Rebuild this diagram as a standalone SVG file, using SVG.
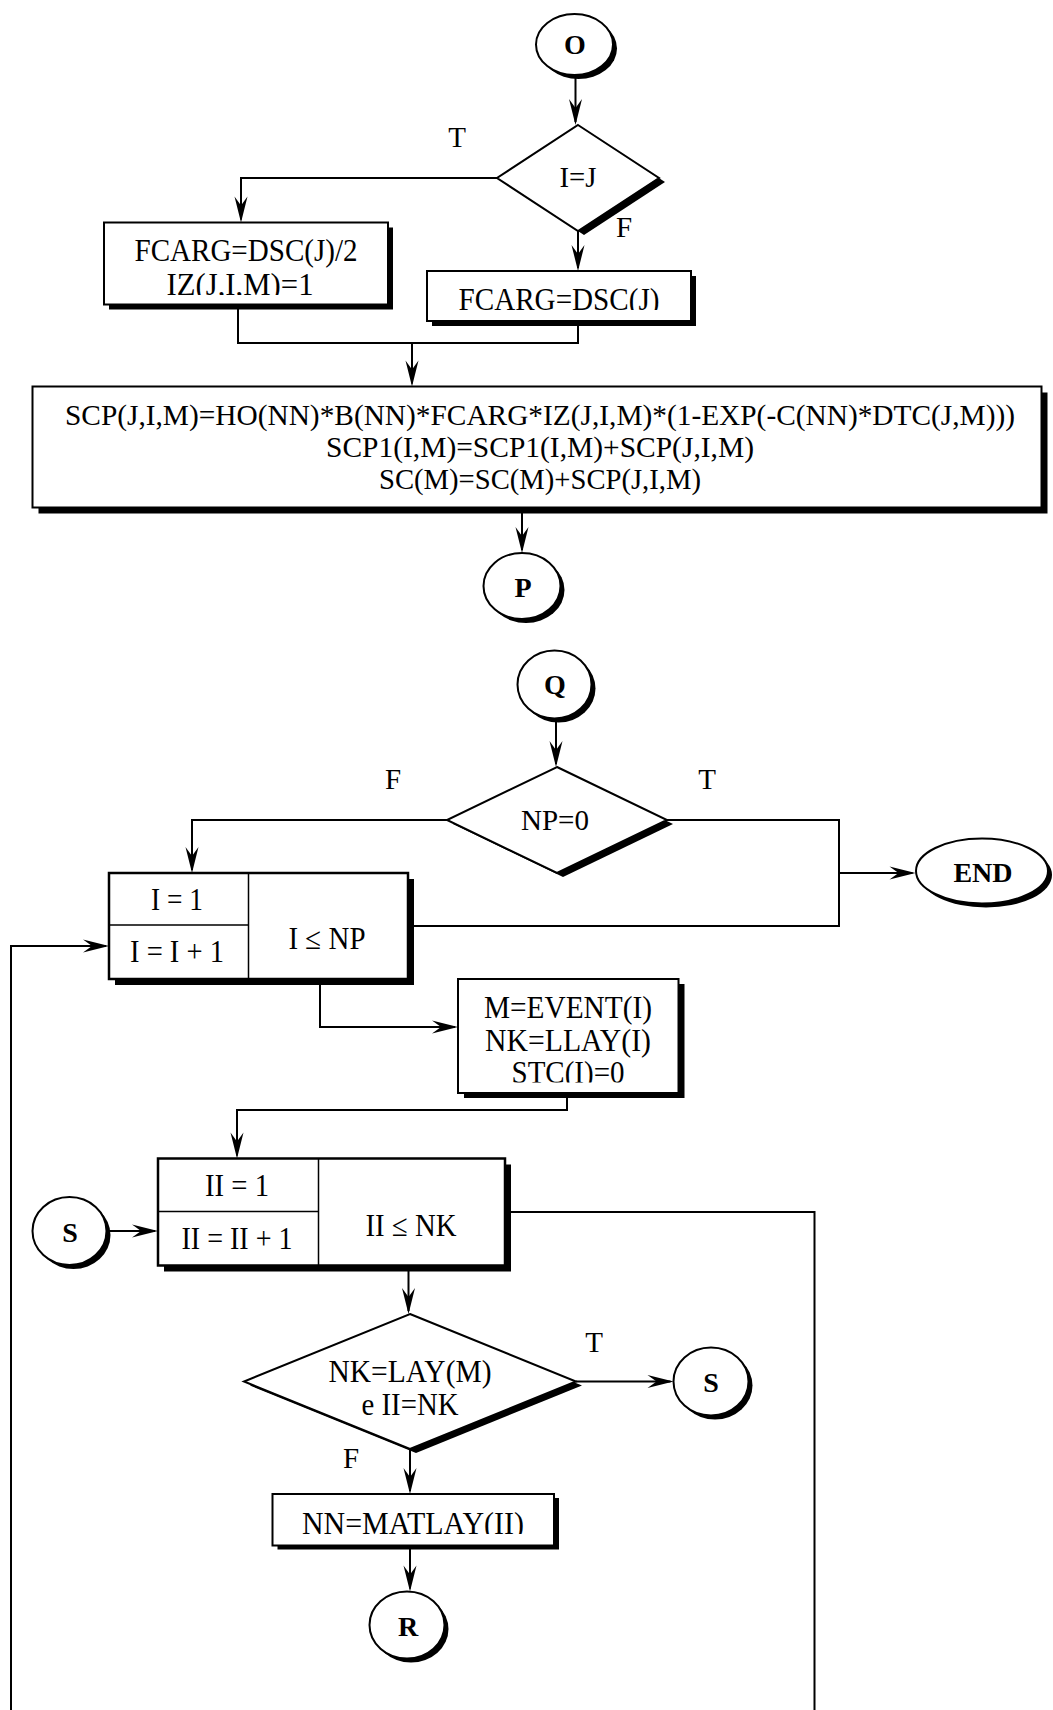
<svg xmlns="http://www.w3.org/2000/svg" width="1053" height="1710" viewBox="0 0 1053 1710">
  <style>
    .bg{fill:#fff}
    .box{fill:#fff;stroke:#000;stroke-width:2}
    .loop{fill:#fff;stroke:#000;stroke-width:2.5}
    .div{fill:none;stroke:#000;stroke-width:1.5}
    .sh{fill:#000}
    .t{font-family:"Liberation Serif","Times New Roman",serif;font-size:29px;fill:#000;text-anchor:middle}
    .p{font-size:31px}
    .w{font-size:30px}
    .b{font-weight:bold;font-size:28px}
    .ln{fill:none;stroke:#000;stroke-width:2}
    .arr{marker-end:url(#ah)}
  </style>
  <defs>
    <marker id="ah" markerUnits="userSpaceOnUse" markerWidth="28" markerHeight="14" refX="23" refY="6.5" orient="auto" overflow="visible">
      <path d="M0,0 L26,6.5 L0,13 L9,6.5 Z" fill="#000"/>
    </marker>
    <clipPath id="clipIZ"><rect x="104" y="222" width="284" height="73"/></clipPath>
    <clipPath id="clipF2"><rect x="427" y="271" width="264" height="39"/></clipPath>
    <clipPath id="clipSTC"><rect x="458" y="979" width="220" height="103.5"/></clipPath>
    <clipPath id="clipNN"><rect x="272" y="1494" width="282" height="40"/></clipPath>
  </defs>
  <rect class="bg" x="0" y="0" width="1053" height="1710"/>

  <!-- connectors -->
  <g id="connectors">
    <path class="ln arr" d="M575.5,76 V122"/>
    <path class="ln arr" d="M497,178 H241 V219.5"/>
    <path class="ln arr" d="M578,231 V268"/>
    <path class="ln" d="M238,304.5 V343 H578 V321"/>
    <path class="ln arr" d="M412,343 V383.5"/>
    <path class="ln arr" d="M522,507.5 V550"/>
    <path class="ln arr" d="M556,718.5 V764"/>
    <path class="ln arr" d="M447,820 H192 V870"/>
    <path class="ln" d="M667,820 H839 V926 H408"/>
    <path class="ln arr" d="M839,873 H912.5"/>
    <path class="ln arr" d="M11,1710 V946 H106"/>
    <path class="ln arr" d="M320,979 V1027 H455"/>
    <path class="ln arr" d="M567,1093 V1110 H237 V1155.5"/>
    <path class="ln arr" d="M106.5,1231 H155"/>
    <path class="ln" d="M505,1212 H814.5 V1710"/>
    <path class="ln arr" d="M408.5,1265.5 V1311"/>
    <path class="ln arr" d="M576,1381.5 H670.5"/>
    <path class="ln arr" d="M410,1449 V1491"/>
    <path class="ln arr" d="M410,1545.5 V1588.5"/>
  </g>

  <!-- branch labels -->
  <g id="labels">
    <text class="t" x="457" y="147">T</text>
    <text class="t" x="624" y="237">F</text>
    <text class="t" x="393" y="789">F</text>
    <text class="t" x="707" y="789">T</text>
    <text class="t" x="594" y="1352">T</text>
    <text class="t" x="351" y="1468">F</text>
  </g>

  <g id="conn-O">
    <ellipse class="sh" cx="578.5" cy="48.5" rx="38.5" ry="30.5"/>
    <ellipse class="box" cx="574.5" cy="44.5" rx="38.5" ry="30.5"/>
    <text class="t b" x="575" y="54">O</text>
  </g>

  <g id="dec-IJ">
    <polygon class="sh" points="584,129 665,182 584,235 503,182"/>
    <polygon class="box" points="578,125 659,178 578,231 497,178"/>
    <text class="t" x="578" y="187" textLength="37" lengthAdjust="spacingAndGlyphs">I=J</text>
  </g>

  <g id="proc-half">
    <rect class="sh" x="109" y="227.5" width="284" height="82"/>
    <rect class="box" x="104" y="222.5" width="284" height="82"/>
    <text class="t p" x="246" y="261" textLength="223" lengthAdjust="spacingAndGlyphs">FCARG=DSC(J)/2</text>
    <text class="t p" x="240" y="295" textLength="147" lengthAdjust="spacingAndGlyphs" clip-path="url(#clipIZ)">IZ(J,I,M)=1</text>
  </g>

  <g id="proc-full">
    <rect class="sh" x="432" y="276" width="264" height="50"/>
    <rect class="box" x="427" y="271" width="264" height="50"/>
    <text class="t p" x="559" y="310" textLength="201" lengthAdjust="spacingAndGlyphs" clip-path="url(#clipF2)">FCARG=DSC(J)</text>
  </g>

  <g id="proc-scp">
    <rect class="sh" x="38.5" y="392.5" width="1009" height="121"/>
    <rect class="box" x="32.5" y="386.5" width="1009" height="121"/>
    <text class="t w" x="540" y="425" textLength="950" lengthAdjust="spacingAndGlyphs">SCP(J,I,M)=HO(NN)*B(NN)*FCARG*IZ(J,I,M)*(1-EXP(-C(NN)*DTC(J,M)))</text>
    <text class="t w" x="540" y="457" textLength="428" lengthAdjust="spacingAndGlyphs">SCP1(I,M)=SCP1(I,M)+SCP(J,I,M)</text>
    <text class="t w" x="540" y="489" textLength="322" lengthAdjust="spacingAndGlyphs">SC(M)=SC(M)+SCP(J,I,M)</text>
  </g>

  <g id="conn-P">
    <ellipse class="sh" cx="526" cy="590" rx="38.5" ry="33"/>
    <ellipse class="box" cx="522" cy="586" rx="38.5" ry="33"/>
    <text class="t b" x="523" y="597">P</text>
  </g>

  <g id="conn-Q">
    <ellipse class="sh" cx="558.5" cy="688.5" rx="37" ry="34"/>
    <ellipse class="box" cx="554.5" cy="684.5" rx="37" ry="34"/>
    <text class="t b" x="555" y="694">Q</text>
  </g>

  <g id="dec-NP">
    <polygon class="sh" points="563,771 673,824 563,877 453,824"/>
    <polygon class="box" points="557,767 667,820 557,873 447,820"/>
    <text class="t" x="555" y="830" textLength="68" lengthAdjust="spacingAndGlyphs">NP=0</text>
  </g>

  <g id="term-END">
    <ellipse class="sh" cx="986" cy="875" rx="66" ry="32.5"/>
    <ellipse class="box" cx="982" cy="871" rx="66" ry="32.5"/>
    <text class="t b" x="983" y="882">END</text>
  </g>

  <g id="loop-I">
    <rect class="sh" x="115" y="879" width="299" height="106"/>
    <rect class="loop" x="109" y="873" width="299" height="106"/>
    <path class="div" d="M248.5,873 V979 M109,925 H248.5"/>
    <text class="t p" x="177" y="910" textLength="52" lengthAdjust="spacingAndGlyphs">I = 1</text>
    <text class="t p" x="177" y="962" textLength="94" lengthAdjust="spacingAndGlyphs">I = I + 1</text>
    <text class="t p" x="327" y="949" textLength="77" lengthAdjust="spacingAndGlyphs">I ≤ NP</text>
  </g>

  <g id="proc-event">
    <rect class="sh" x="464" y="984" width="220.5" height="114"/>
    <rect class="box" x="458" y="979" width="220.5" height="114"/>
    <text class="t p" x="568" y="1018" textLength="168" lengthAdjust="spacingAndGlyphs">M=EVENT(I)</text>
    <text class="t p" x="568" y="1051" textLength="166" lengthAdjust="spacingAndGlyphs">NK=LLAY(I)</text>
    <text class="t p" x="568" y="1083" textLength="113" lengthAdjust="spacingAndGlyphs" clip-path="url(#clipSTC)">STC(I)=0</text>
  </g>

  <g id="loop-II">
    <rect class="sh" x="164" y="1164.5" width="347" height="107"/>
    <rect class="loop" x="158" y="1158.5" width="347" height="107"/>
    <path class="div" d="M318.5,1158.5 V1265.5 M158,1211.5 H318.5"/>
    <text class="t p" x="237" y="1196" textLength="64" lengthAdjust="spacingAndGlyphs">II = 1</text>
    <text class="t p" x="237" y="1249" textLength="111" lengthAdjust="spacingAndGlyphs">II = II + 1</text>
    <text class="t p" x="411" y="1236" textLength="91" lengthAdjust="spacingAndGlyphs">II ≤ NK</text>
  </g>

  <g id="conn-S-in">
    <ellipse class="sh" cx="73.5" cy="1235" rx="37" ry="34"/>
    <ellipse class="box" cx="69.5" cy="1231" rx="37" ry="34"/>
    <text class="t b" x="70" y="1242">S</text>
  </g>

  <g id="dec-NK">
    <polygon class="sh" points="416,1318 582,1385.5 416,1453 250,1385.5"/>
    <polygon class="box" points="410,1314 576,1381.5 410,1449 244,1381.5"/>
    <text class="t p" x="410" y="1382" textLength="163" lengthAdjust="spacingAndGlyphs">NK=LAY(M)</text>
    <text class="t p" x="410" y="1415" textLength="97" lengthAdjust="spacingAndGlyphs">e II=NK</text>
  </g>

  <g id="conn-S-out">
    <ellipse class="sh" cx="715" cy="1385.5" rx="37.5" ry="34"/>
    <ellipse class="box" cx="711" cy="1381.5" rx="37.5" ry="34"/>
    <text class="t b" x="711" y="1392">S</text>
  </g>

  <g id="proc-matlay">
    <rect class="sh" x="277.5" y="1498" width="281.5" height="51.5"/>
    <rect class="box" x="272.5" y="1494" width="281.5" height="51.5"/>
    <text class="t p" x="413" y="1533.5" textLength="222" lengthAdjust="spacingAndGlyphs" clip-path="url(#clipNN)">NN=MATLAY(II)</text>
  </g>

  <g id="conn-R">
    <ellipse class="sh" cx="411" cy="1629" rx="37.5" ry="33.5"/>
    <ellipse class="box" cx="407" cy="1625" rx="37.5" ry="33.5"/>
    <text class="t b" x="408" y="1636">R</text>
  </g>
</svg>
